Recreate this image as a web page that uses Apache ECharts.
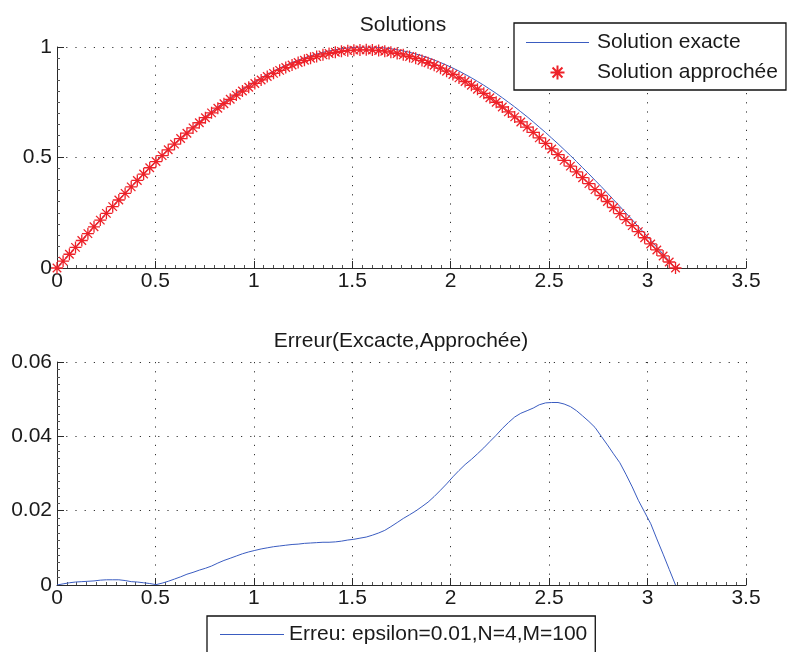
<!DOCTYPE html>
<html>
<head>
<meta charset="utf-8">
<script src="https://cdn.jsdelivr.net/npm/echarts@6/dist/echarts.min.js"></script>
<style>
  html, body { margin: 0; padding: 0; background: #fff; }
  #chart { width: 787px; height: 652px; }
</style>
</head>
<body>
<div id="chart"></div>
<script>
// Sample positions on [0, pi] (M = 100 steps)
const xs = [
  0, 0.031, 0.063, 0.094, 0.126, 0.157, 0.188, 0.220, 0.251, 0.283,
  0.314, 0.346, 0.377, 0.408, 0.440, 0.471, 0.503, 0.534, 0.565, 0.597,
  0.628, 0.660, 0.691, 0.723, 0.754, 0.785, 0.817, 0.848, 0.880, 0.911,
  0.942, 0.974, 1.005, 1.037, 1.068, 1.100, 1.131, 1.162, 1.194, 1.225,
  1.257, 1.288, 1.319, 1.351, 1.382, 1.414, 1.445, 1.477, 1.508, 1.539,
  1.571, 1.602, 1.634, 1.665, 1.696, 1.728, 1.759, 1.791, 1.822, 1.854,
  1.885, 1.916, 1.948, 1.979, 2.011, 2.042, 2.073, 2.105, 2.136, 2.168,
  2.199, 2.231, 2.262, 2.293, 2.325, 2.356, 2.388, 2.419, 2.450, 2.482,
  2.513, 2.545, 2.576, 2.608, 2.639, 2.670, 2.702, 2.733, 2.765, 2.796,
  2.827, 2.859, 2.890, 2.922, 2.953, 2.985, 3.016, 3.047, 3.079, 3.110,
  3.142
];

// Exact solution
const exacte = [
  0, 0.0314, 0.0628, 0.0941, 0.1253, 0.1564, 0.1874, 0.2181, 0.2487, 0.2790,
  0.3090, 0.3387, 0.3681, 0.3971, 0.4258, 0.4540, 0.4818, 0.5090, 0.5358, 0.5621,
  0.5878, 0.6129, 0.6374, 0.6613, 0.6845, 0.7071, 0.7290, 0.7501, 0.7705, 0.7902,
  0.8090, 0.8271, 0.8443, 0.8607, 0.8763, 0.8910, 0.9048, 0.9178, 0.9298, 0.9409,
  0.9511, 0.9603, 0.9686, 0.9759, 0.9823, 0.9877, 0.9921, 0.9956, 0.9980, 0.9995,
  1.0000, 0.9995, 0.9980, 0.9956, 0.9921, 0.9877, 0.9823, 0.9759, 0.9686, 0.9603,
  0.9511, 0.9409, 0.9298, 0.9178, 0.9048, 0.8910, 0.8763, 0.8607, 0.8443, 0.8271,
  0.8090, 0.7902, 0.7705, 0.7501, 0.7290, 0.7071, 0.6845, 0.6613, 0.6374, 0.6129,
  0.5878, 0.5621, 0.5358, 0.5090, 0.4818, 0.4540, 0.4258, 0.3971, 0.3681, 0.3387,
  0.3090, 0.2790, 0.2487, 0.2181, 0.1874, 0.1564, 0.1253, 0.0941, 0.0628, 0.0314,
  0
];

// Approximate solution
const approchee = [
  0, 0.0311, 0.0622, 0.0933, 0.1244, 0.1554, 0.1863, 0.2168, 0.2473, 0.2776,
  0.3076, 0.3375, 0.3672, 0.3963, 0.4252, 0.4536, 0.4817, 0.5085, 0.5348, 0.5605,
  0.5856, 0.6100, 0.6340, 0.6573, 0.6800, 0.7020, 0.7231, 0.7435, 0.7633, 0.7824,
  0.8006, 0.8182, 0.8350, 0.8510, 0.8663, 0.8807, 0.8943, 0.9071, 0.9189, 0.9299,
  0.9399, 0.9490, 0.9572, 0.9644, 0.9708, 0.9761, 0.9803, 0.9835, 0.9857, 0.9869,
  0.9871, 0.9861, 0.9840, 0.9809, 0.9764, 0.9709, 0.9644, 0.9570, 0.9487, 0.9392,
  0.9288, 0.9171, 0.9043, 0.8906, 0.8757, 0.8602, 0.8439, 0.8269, 0.8090, 0.7902,
  0.7704, 0.7499, 0.7284, 0.7064, 0.6838, 0.6609, 0.6376, 0.6137, 0.5889, 0.5639,
  0.5387, 0.5130, 0.4871, 0.4610, 0.4349, 0.4085, 0.3818, 0.3547, 0.3281, 0.3010,
  0.2737, 0.2461, 0.2189, 0.1917, 0.1646, 0.1368, 0.1088, 0.0817, 0.0545, 0.0272,
  0
];

// Error between the two solutions
const erreur = [
  0, 0.0003, 0.0006, 0.0008, 0.0009, 0.0010, 0.0011, 0.0013, 0.0014, 0.0014,
  0.0014, 0.0012, 0.0009, 0.0008, 0.0006, 0.0004, 0.0001, 0.0005, 0.0010, 0.0016,
  0.0022, 0.0029, 0.0034, 0.0040, 0.0045, 0.0051, 0.0059, 0.0066, 0.0072, 0.0078,
  0.0084, 0.0089, 0.0093, 0.0097, 0.0100, 0.0103, 0.0105, 0.0107, 0.0109, 0.0110,
  0.0112, 0.0113, 0.0114, 0.0115, 0.0115, 0.0116, 0.0118, 0.0121, 0.0123, 0.0126,
  0.0129, 0.0134, 0.0140, 0.0147, 0.0157, 0.0168, 0.0179, 0.0189, 0.0199, 0.0211,
  0.0223, 0.0238, 0.0255, 0.0272, 0.0291, 0.0308, 0.0324, 0.0338, 0.0353, 0.0369,
  0.0386, 0.0403, 0.0421, 0.0437, 0.0452, 0.0462, 0.0469, 0.0476, 0.0485, 0.0490,
  0.0491, 0.0491, 0.0487, 0.0480, 0.0469, 0.0455, 0.0440, 0.0424, 0.0400, 0.0377,
  0.0353, 0.0329, 0.0298, 0.0264, 0.0228, 0.0196, 0.0165, 0.0124, 0.0083, 0.0042,
  0
];

const xTicks = { min: 0, max: 3.5, interval: 0.5 };
const yTicksSol = { min: 0, max: 1, interval: 0.5 };
const yTicksErr = { min: 0, max: 0.06, interval: 0.02 };

const titles = ['Solutions', 'Erreur(Excacte,Approchée)'];
const names = ['Solution exacte', 'Solution approchée', 'Erreu: epsilon=0.01,N=4,M=100'];

const FONT = 'Liberation Sans, Arial, Helvetica, sans-serif';
const FS = 21;
const BLUE = '#3a5cc0';
const RED = '#ee2229';
const INK = '#1a1a1a';
const STAR = 'path://M0,5L10,5M5,0L5,10M1.46,1.46L8.54,8.54M8.54,1.46L1.46,8.54';
// legend key for plain lines: a thin bar the full width of the key, no marker
const lineOnly = (name) => ({
  name, icon: 'path://M0,0L64,0L64,1L0,1Z',
  itemStyle: { borderWidth: 0 }
});

const pairs = (ys) => xs.map((x, i) => [x, ys[i]]);

function xAxisFor(gridIndex) {
  return {
    type: 'value', gridIndex,
    min: xTicks.min, max: xTicks.max, interval: xTicks.interval,
    axisLine: { onZero: false, lineStyle: { color: '#2a2a2a', width: 1 } },
    axisTick: { inside: true, length: 7, lineStyle: { color: '#2a2a2a' } },
    minorTick: { show: true, splitNumber: 10, length: 3, lineStyle: { color: '#555' } },
    axisLabel: { color: INK, fontSize: FS, fontFamily: FONT, margin: 3 },
    splitLine: { show: true, lineStyle: { color: '#333', width: 1, type: [1.2, 8] } }
  };
}

function yAxisFor(gridIndex, t) {
  return {
    type: 'value', gridIndex,
    min: t.min, max: t.max, interval: t.interval,
    axisLine: { show: true, onZero: false, lineStyle: { color: '#2a2a2a', width: 1 } },
    axisTick: { show: true, inside: true, length: 7, lineStyle: { color: '#2a2a2a' } },
    minorTick: { show: true, splitNumber: 10, length: 3, lineStyle: { color: '#555' } },
    axisLabel: { color: INK, fontSize: FS, fontFamily: FONT, margin: 5 },
    splitLine: { show: true, lineStyle: { color: '#333', width: 1, type: [1.2, 8] } }
  };
}

const chart = echarts.init(document.getElementById('chart'), null, { renderer: 'canvas' });

chart.setOption({
  backgroundColor: '#ffffff',
  animation: false,
  textStyle: { fontFamily: FONT },
  title: [
    { text: titles[0], left: 398, top: 10, textAlign: 'center',
      textStyle: { fontSize: FS, fontWeight: 'normal', color: INK, fontFamily: FONT } },
    { text: titles[1], left: 396, top: 326, textAlign: 'center',
      textStyle: { fontSize: FS, fontWeight: 'normal', color: INK, fontFamily: FONT } }
  ],
  grid: [
    { left: 57, right: 41, top: 47, height: 221 },
    { left: 57, right: 41, top: 362, height: 223 }
  ],
  xAxis: [xAxisFor(0), xAxisFor(1)],
  yAxis: [yAxisFor(0, yTicksSol), yAxisFor(1, yTicksErr)],
  legend: [
    {
      data: [lineOnly(names[0]), names[1]],
      orient: 'vertical', left: 514, top: 23,
      padding: [9, 8, 7, 12], itemGap: 9,
      itemWidth: 63, itemHeight: 14,
      borderColor: '#111', borderWidth: 1.3, backgroundColor: '#fff',
      textStyle: { fontSize: FS, color: INK, fontFamily: FONT, padding: [0, 0, 0, 3] }
    },
    {
      data: [lineOnly(names[2])],
      orient: 'horizontal', left: 207, top: 616,
      padding: [8, 8, 20, 13],
      itemWidth: 64, itemHeight: 14,
      borderColor: '#111', borderWidth: 1.3, backgroundColor: '#fff',
      textStyle: { fontSize: FS, color: INK, fontFamily: FONT }
    }
  ],
  series: [
    {
      name: names[0], type: 'line', xAxisIndex: 0, yAxisIndex: 0,
      data: pairs(exacte), symbol: 'none', z: 2,
      lineStyle: { color: BLUE, width: 1 }, itemStyle: { color: BLUE }
    },
    {
      name: names[1], type: 'scatter', xAxisIndex: 0, yAxisIndex: 0,
      data: pairs(approchee), symbol: STAR, symbolSize: 12, z: 3,
      itemStyle: { color: 'rgba(0,0,0,0)', borderColor: RED, borderWidth: 1.3, opacity: 1 }
    },
    {
      name: names[2], type: 'line', xAxisIndex: 1, yAxisIndex: 1,
      data: pairs(erreur), symbol: 'none',
      lineStyle: { color: BLUE, width: 1 }, itemStyle: { color: BLUE }
    }
  ]
});
</script>
</body>
</html>
